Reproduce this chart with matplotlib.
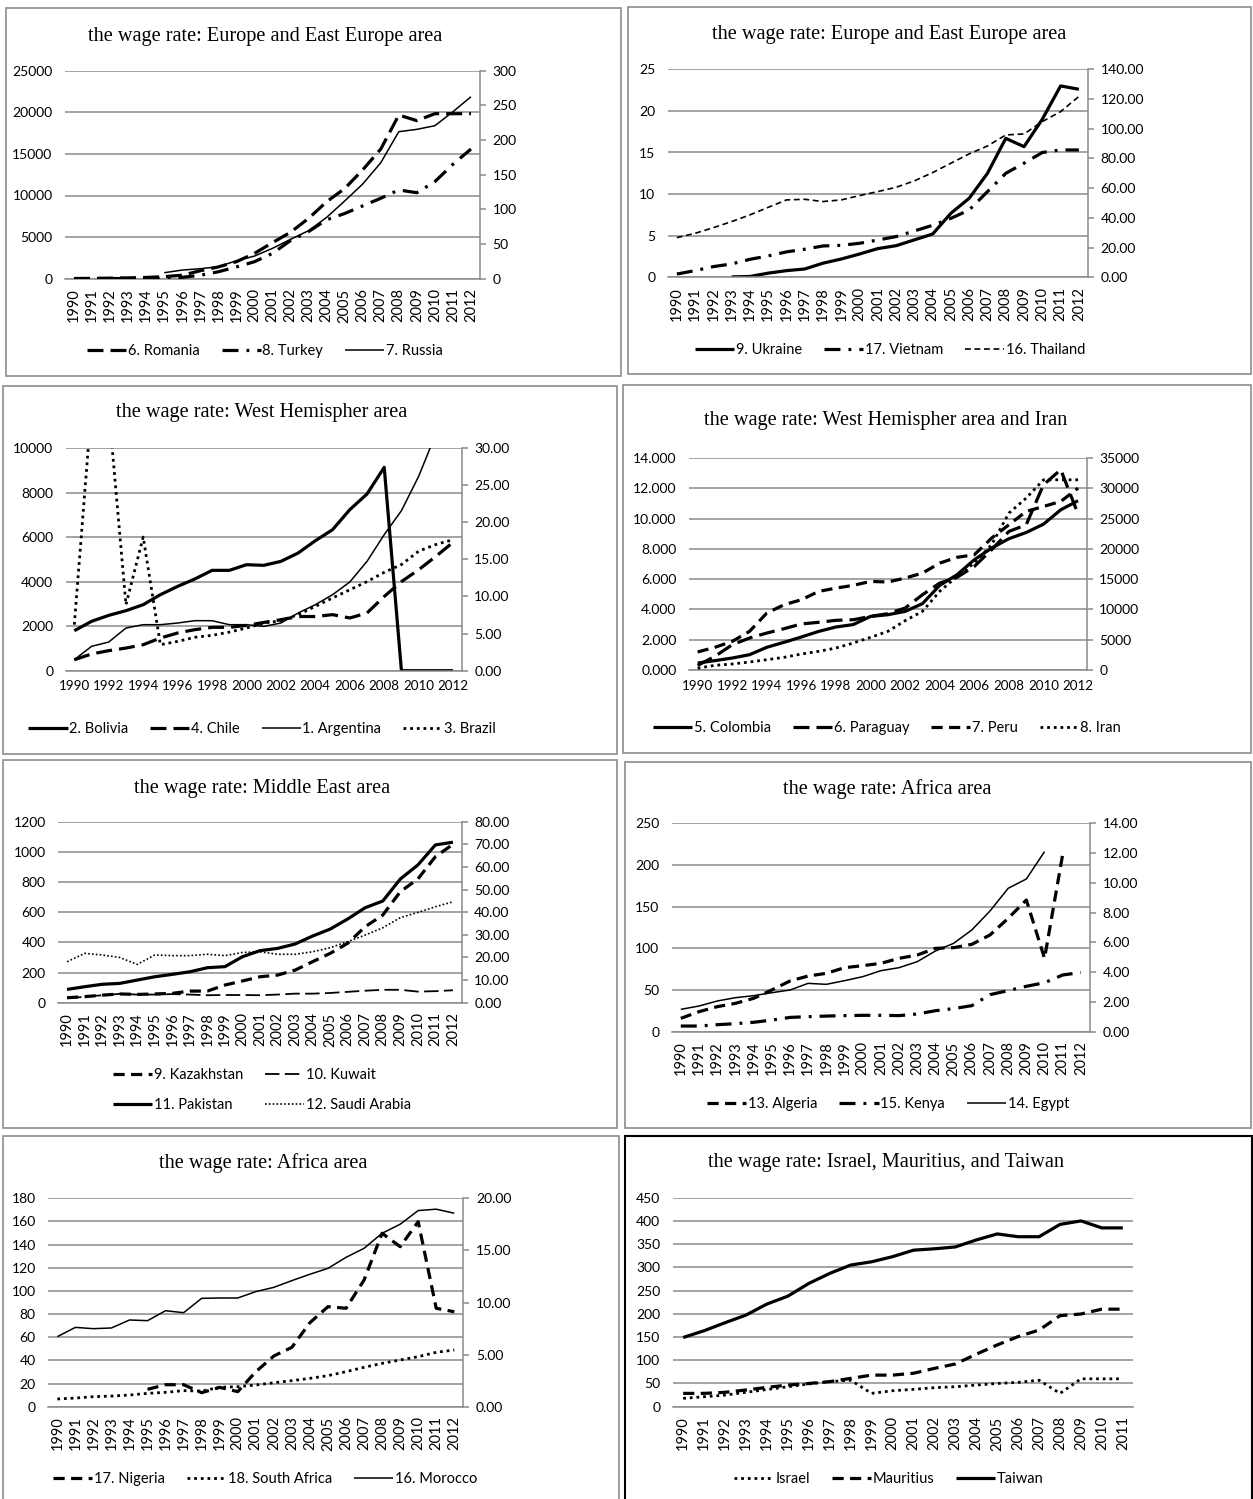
import numpy as np
import matplotlib
matplotlib.use("Agg")
import matplotlib.pyplot as plt
from matplotlib.patches import Rectangle

nan = np.nan

# x categories
years = list(range(1990, 2013))
years_tw = list(range(1990, 2012))

# panel 1: Europe and East Europe
romania = [0.3, 0.5, 0.8, 1.2, 1.8, 3, 5, 11.5, 17, 24.5, 36.5, 52, 67, 87, 111, 130, 157, 187, 236, 228, 238, 238, 238]
turkey = [0.1, 0.1, 0.2, 0.3, 0.5, 1, 2, 5, 10, 17, 24.5, 36.5, 55, 68, 85, 94, 105, 116, 128, 124, 140, 165, 187]
russia = [nan, nan, nan, nan, nan, 720, 1040, 1200, 1440, 2160, 2720, 3650, 4730, 5770, 7370, 9340, 11380, 13940,
          17670, 17950, 18390, 20070, 21870]

# panel 2: Europe and East Europe (second)
ukraine = [nan, nan, nan, 0.05, 0.1, 0.5, 0.8, 1.0, 1.7, 2.2, 2.8, 3.45, 3.8, 4.5, 5.2, 7.7, 9.5, 12.5, 16.7, 15.7,
           19.0, 23.0, 22.6]
vietnam = [2.2, 4.5, 7.2, 9.0, 12.1, 14.4, 17.1, 18.9, 21.1, 21.5, 22.9, 25.1, 27.4, 31.2, 35.0, 39.7, 45.3, 57.7,
           70.0, 76.8, 84.0, 85.7, 85.7]
thailand = [26.7, 29.6, 33.4, 37.5, 42.0, 47.1, 52.1, 52.5, 51.0, 52.1, 55.0, 57.7, 60.6, 64.9, 70.5, 76.8, 83.1,
            88.4, 95.8, 96.5, 104.8, 111.5, 121.7]

# panel 3: West Hemisphere
bolivia = [1796, 2216, 2485, 2695, 2964, 3413, 3787, 4117, 4506, 4506, 4760, 4731, 4910, 5284, 5838, 6332, 7231,
           7934, 9132, 0, 0, 0, 0]
argentina = [494, 1093, 1287, 1916, 2066, 2066, 2141, 2246, 2246, 2066, 2066, 1990, 2141, 2590, 2964, 3413, 3982,
             4910, 6108, 7186, 8728, 10630, 12500]
chile = [1.48, 2.25, 2.7, 3.05, 3.5, 4.4, 5.08, 5.53, 5.84, 5.84, 6.1, 6.5, 6.87, 7.3, 7.3, 7.55, 7.1, 7.77, 10.0,
         12.0, 13.6, 15.4, 17.3]
brazil = [6.2, 35.6, 35.3, 8.9, 18.0, 3.5, 3.95, 4.5, 4.76, 5.2, 5.75, 6.4, 6.74, 7.55, 8.67, 9.8, 10.9, 12.0,
          13.25, 14.3, 16.1, 17.0, 17.65]

# panel 4: West Hemisphere and Iran
colombia = [0.46, 0.62, 0.79, 1.01, 1.5, 1.83, 2.18, 2.55, 2.84, 3.0, 3.54, 3.65, 3.87, 4.38, 5.59, 6.29, 7.28,
            8.05, 8.67, 9.08, 9.63, 10.58, 11.18]
paraguay = [0.3, 0.9, 1.67, 2.11, 2.44, 2.73, 3.04, 3.15, 3.28, 3.32, 3.54, 3.72, 4.09, 4.97, 5.74, 6.12, 6.84,
            7.94, 9.15, 9.59, 12.23, 13.23, 10.3]
peru = [1.19, 1.5, 1.89, 2.55, 3.76, 4.31, 4.64, 5.19, 5.41, 5.59, 5.85, 5.81, 6.07, 6.4, 7.06, 7.44, 7.61, 8.71,
        9.59, 10.47, 10.8, 11.13, 12.01]
iran = [300, 770, 990, 1320, 1700, 2090, 2640, 3080, 3630, 4455, 5390, 6380, 8140, 9680, 12980, 15460, 17660,
        20680, 25900, 28380, 31400, 31400, 31400]

# panel 5: Middle East
kazakhstan = [33, 40, 50, 58, 55, 58, 62, 77, 77, 117, 144, 172, 183, 216, 272, 327, 394, 504, 581, 736, 820, 968,
              1050]
pakistan = [88, 106, 122, 128, 150, 172, 188, 205, 232, 239, 305, 345, 360, 389, 442, 488, 555, 630, 674, 820, 913,
            1046, 1064]
kuwait = [2.0, 2.6, 3.3, 3.9, 3.6, 3.6, 3.8, 3.6, 3.3, 3.4, 3.4, 3.3, 3.6, 4.0, 4.0, 4.3, 4.8, 5.3, 5.7, 5.7, 4.9,
          5.1, 5.5]
saudi = [18.1, 21.8, 21.1, 20.0, 16.9, 21.1, 20.8, 20.8, 21.4, 20.8, 22.2, 22.5, 21.4, 21.4, 22.5, 24.3, 27.0, 29.9,
         33.1, 37.6, 39.9, 42.4, 44.6]

# panel 6: Africa
algeria = [16, 24, 30, 34, 40, 50, 60.8, 66.8, 70, 76.8, 79.2, 82, 88, 92, 100, 100.8, 104.8, 116, 136, 158, 88,
           213, nan]
egypt = [26.8, 30.8, 36.8, 40.8, 43.2, 46.8, 50, 58, 56.8, 61.2, 66, 73.2, 76.8, 84, 96.8, 106, 122, 144.8, 172,
         183.2, 216, nan, nan]
kenya = [0.38, 0.38, 0.47, 0.54, 0.63, 0.78, 0.96, 1.01, 1.05, 1.08, 1.10, 1.10, 1.08, 1.19, 1.41, 1.55, 1.75,
         2.49, 2.76, 3.05, 3.29, 3.81, 3.98]

# panel 7: Africa (second)
nigeria = [nan, nan, nan, nan, nan, 15, 19, 19, 12.1, 16.7, 13, 30.2, 43.8, 51.3, 72.6, 86.4, 85, 109.4, 149.8,
           138.2, 159.8, 85, 82]
morocco = [60.5, 68.5, 67.4, 68, 74.9, 74.3, 82.9, 81.2, 93.6, 93.9, 93.9, 99.4, 103.1, 108.9, 114.4, 119.5, 129,
           136.8, 149.8, 157.6, 169.4, 170.6, 167.1]
south_africa = [0.74, 0.83, 0.96, 1.02, 1.12, 1.28, 1.38, 1.54, 1.5, 1.86, 1.92, 2.08, 2.3, 2.5, 2.72, 2.98, 3.36,
                3.78, 4.16, 4.48, 4.8, 5.22, 5.44]

# panel 8: Israel, Mauritius, Taiwan
israel = [18, 21.5, 25, 31, 37, 43, 49, 54, 57, 28.7, 34.4, 37.3, 41, 43, 46.6, 50, 52.4, 57, 28.7, 60, 60, 60]
mauritius = [28.7, 28.7, 31, 36, 41.6, 46.6, 50, 54, 61, 68, 68, 72, 82.5, 92, 113, 133, 151, 165, 196, 199.6, 210,
             210]
taiwan = [149, 163.6, 180.8, 197.3, 221, 238, 265.4, 287, 305, 312, 323, 337, 340, 344, 359, 372, 366, 366, 392.5,
          400, 385, 385]

W, H = 1253, 1499
fig = plt.figure(figsize=(W / 100, H / 100), dpi=100)
fig.patch.set_facecolor("white")

TICKFONT = "Lato"
GRID = "#8a8a8a"

# line styles: (linestyle, linewidth)
THICK_SOLID = ("-", 2.3)
THIN_SOLID = ("-", 1.1)
LONG_DASH = ((0, (5, 2.2)), 2.3)
DASH = ((0, (3.5, 2)), 2.3)
DASH_DOT = ((0, (5, 2.5, 0.9, 2.5)), 2.3)
THIN_DASH = ((0, (3.5, 2.2)), 1.2)
THIN_LONG_DASH = ((0, (8, 3)), 1.3)
DOTS = ((0, (1, 1.4)), 2.0)
THIN_DOTS = ((0, (1, 1.3)), 1.2)


def px_axes(l, t, r, b):
    return fig.add_axes([l / W, 1 - b / H, (r - l) / W, (b - t) / H])


def box(l, t, r, b, color="#8c8c8c", lw=1.2):
    fig.patches.append(Rectangle((l / W, 1 - b / H), (r - l) / W, (b - t) / H, transform=fig.transFigure,
                                 fill=False, edgecolor=color, linewidth=lw))


def make_panel(rect, cats, left_ticks, left_fmt, right_ticks, right_fmt, rotate, step=1):
    ax = px_axes(*rect)
    n = len(cats)
    ax.set_xlim(-0.5, n - 0.5)
    ax.set_ylim(left_ticks[0], left_ticks[-1])
    ax.set_yticks(left_ticks)
    ax.set_yticklabels([left_fmt.format(v) for v in left_ticks])
    ax.yaxis.grid(True, color=GRID, linewidth=1.1)
    ax.set_axisbelow(True)
    for s in ["top", "left", "right"]:
        ax.spines[s].set_visible(False)
    ax.spines["bottom"].set_color(GRID)
    ax.spines["bottom"].set_linewidth(1.1)
    ax.tick_params(axis="y", length=0, pad=9, labelsize=10)
    pos = list(range(0, n, step))
    ax.set_xticks(pos)
    ax.set_xticklabels([str(cats[i]) for i in pos], rotation=90 if rotate else 0)
    ax.tick_params(axis="x", length=0, pad=7, labelsize=10.5 if rotate else 9.6)
    for lab in ax.get_xticklabels() + ax.get_yticklabels():
        lab.set_family(TICKFONT)
    ax2 = None
    if right_ticks is not None:
        ax2 = ax.twinx()
        ax2.set_ylim(right_ticks[0], right_ticks[-1])
        ax2.set_yticks(right_ticks)
        ax2.set_yticklabels([right_fmt.format(v) for v in right_ticks])
        for s in ["top", "left", "bottom"]:
            ax2.spines[s].set_visible(False)
        ax2.spines["right"].set_color(GRID)
        ax2.spines["right"].set_linewidth(1.1)
        ax2.tick_params(axis="y", length=4, width=1.1, color=GRID, pad=5, labelsize=10)
        for lab in ax2.get_yticklabels():
            lab.set_family(TICKFONT)
    return ax, ax2


def draw(ax, values, style, label):
    ls, lw = style
    x = np.arange(len(values))
    ln, = ax.plot(x, np.array(values, dtype=float), color="black", linestyle=ls, linewidth=lw,
                  label=label, solid_capstyle="butt", dash_capstyle="butt")
    return ln


def title(cx, cy, text):
    fig.text(cx / W, 1 - cy / H, text, ha="center", va="center", family="Liberation Serif", fontsize=14.6)


def legend(handles, cx, cy, ncol):
    fig.legend(handles=handles, loc="center", bbox_to_anchor=(cx / W, 1 - cy / H), ncol=ncol, frameon=False,
               handlelength=2.7, columnspacing=1.5, handletextpad=0.1, labelspacing=1.1,
               prop={"family": TICKFONT, "size": 10.5})


# ---- panel 1
box(6, 8, 621, 376)
ax, ax2 = make_panel((65, 70.7, 480, 278.7), years, [0, 5000, 10000, 15000, 20000, 25000], "{:d}",
                     [0, 50, 100, 150, 200, 250, 300], "{:d}", True)
h1 = draw(ax2, romania, LONG_DASH, "6. Romania")
h2 = draw(ax2, turkey, DASH_DOT, "8. Turkey")
h3 = draw(ax, russia, THIN_SOLID, "7. Russia")
title(265, 37, "the wage rate: Europe and East Europe area")
legend([h1, h2, h3], 265, 351, 3)

# ---- panel 2
box(627.7, 7, 1251, 374)
ax, ax2 = make_panel((667.7, 69.3, 1088, 277.3), years, [0, 5, 10, 15, 20, 25], "{:d}",
                     [0, 20, 40, 60, 80, 100, 120, 140], "{:.2f}", True)
h1 = draw(ax, ukraine, THICK_SOLID, "9. Ukraine")
h2 = draw(ax2, vietnam, DASH_DOT, "17. Vietnam")
h3 = draw(ax2, thailand, THIN_DASH, "16. Thailand")
title(889, 34, "the wage rate: Europe and East Europe area")
legend([h1, h2, h3], 890, 350, 3)

# ---- panel 3
box(3, 386, 617, 754)
ax, ax2 = make_panel((65.7, 448, 461.7, 670.7), years, [0, 2000, 4000, 6000, 8000, 10000], "{:d}",
                     [0, 5, 10, 15, 20, 25, 30], "{:.2f}", False, step=2)
h1 = draw(ax, bolivia, THICK_SOLID, "2. Bolivia")
h2 = draw(ax2, chile, LONG_DASH, "4. Chile")
h3 = draw(ax, argentina, THIN_SOLID, "1. Argentina")
h4 = draw(ax2, brazil, DOTS, "3. Brazil")
title(262, 413, "the wage rate: West Hemispher area")
legend([h1, h2, h3, h4], 262, 729, 4)

# ---- panel 4
box(623, 385, 1251, 753)
ax, ax2 = make_panel((689, 458, 1086.7, 670), years, [0, 2, 4, 6, 8, 10, 12, 14], "{:.3f}",
                     [0, 5000, 10000, 15000, 20000, 25000, 30000, 35000], "{:d}", False, step=2)
h1 = draw(ax, colombia, THICK_SOLID, "5. Colombia")
h2 = draw(ax, paraguay, LONG_DASH, "6. Paraguay")
h3 = draw(ax, peru, DASH, "7. Peru")
h4 = draw(ax2, iran, DOTS, "8. Iran")
title(886, 421, "the wage rate: West Hemispher area and Iran")
legend([h1, h2, h3, h4], 887, 728, 4)

# ---- panel 5 (legend in two rows)
box(3, 760, 617, 1128)
ax, ax2 = make_panel((58.3, 821.7, 461.7, 1002.7), years, [0, 200, 400, 600, 800, 1000, 1200], "{:d}",
                     [0, 10, 20, 30, 40, 50, 60, 70, 80], "{:.2f}", True)
h1 = draw(ax, kazakhstan, DASH, "9. Kazakhstan")
h2 = draw(ax2, kuwait, THIN_LONG_DASH, "10. Kuwait")
h3 = draw(ax, pakistan, THICK_SOLID, "11. Pakistan")
h4 = draw(ax2, saudi, THIN_DOTS, "12. Saudi Arabia")
title(262, 788, "the wage rate: Middle East area")
legend([h1, h3, h2, h4], 262, 1090, 2)

# ---- panel 6
box(625, 762, 1251, 1128)
ax, ax2 = make_panel((671.7, 823.3, 1090, 1031.7), years, [0, 50, 100, 150, 200, 250], "{:d}",
                     [0, 2, 4, 6, 8, 10, 12, 14], "{:.2f}", True)
h1 = draw(ax, algeria, DASH, "13. Algeria")
h2 = draw(ax2, kenya, DASH_DOT, "15. Kenya")
h3 = draw(ax, egypt, THIN_SOLID, "14. Egypt")
title(887, 789, "the wage rate: Africa area")
legend([h1, h2, h3], 888, 1104, 3)

# ---- panel 7
box(3, 1136, 619, 1502)
ax, ax2 = make_panel((48.3, 1198.3, 463.3, 1406.7), years, [0, 20, 40, 60, 80, 100, 120, 140, 160, 180], "{:d}",
                     [0, 5, 10, 15, 20], "{:.2f}", True)
h1 = draw(ax, nigeria, DASH, "17. Nigeria")
h2 = draw(ax2, south_africa, DOTS, "18. South Africa")
h3 = draw(ax, morocco, THIN_SOLID, "16. Morocco")
title(263, 1163, "the wage rate: Africa area")
legend([h1, h2, h3], 265, 1479, 3)

# ---- panel 8
box(625, 1136, 1252, 1502, color="black", lw=1.5)
ax, _ = make_panel((672.7, 1197.7, 1133.3, 1406.7), years_tw, [0, 50, 100, 150, 200, 250, 300, 350, 400, 450],
                   "{:d}", None, None, True)
h1 = draw(ax, israel, DOTS, "Israel")
h2 = draw(ax, mauritius, DASH, "Mauritius")
h3 = draw(ax, taiwan, THICK_SOLID, "Taiwan")
title(886, 1163, "the wage rate: Israel, Mauritius, and Taiwan")
legend([h1, h2, h3], 889, 1479, 3)

fig.savefig("out.png", dpi=100)
